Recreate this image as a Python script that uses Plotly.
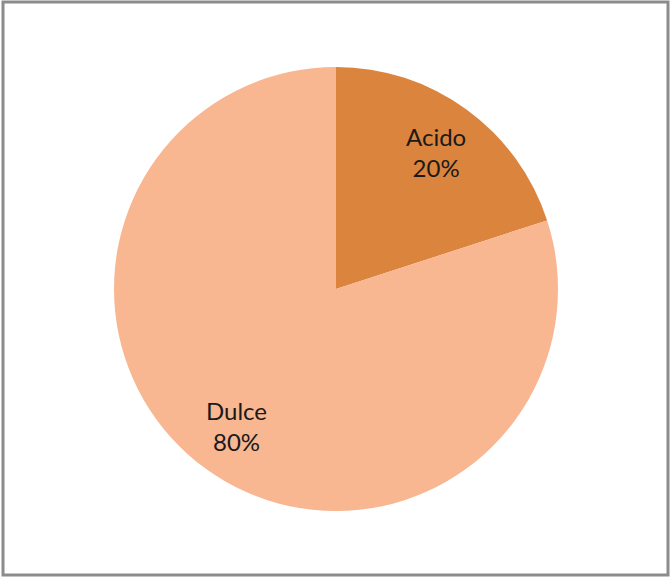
import math
import plotly.graph_objects as go

labels = ["Acido", "Dulce"]
values = [20, 80]
colors = ["#DB843E", "#F8B691"]

W, H = 670, 577
cx, cy, R = 336, 289, 222
label_r = 0.765

fig = go.Figure(go.Pie(
    labels=labels,
    values=values,
    sort=False,
    direction="clockwise",
    rotation=0,
    marker=dict(colors=colors, line=dict(color="white", width=0)),
    textinfo="none",
    hoverinfo="label+percent",
    showlegend=False,
    domain=dict(x=[(cx - R) / W, (cx + R) / W], y=[1 - (cy + R) / H, 1 - (cy - R) / H]),
))

# data labels placed along each slice's mid-angle
total = sum(values)
annotations = []
cum = 0
for lab, v in zip(labels, values):
    mid = (cum + v / 2) / total * 2 * math.pi
    cum += v
    px = cx + label_r * R * math.sin(mid)
    py = cy - label_r * R * math.cos(mid)
    annotations.append(dict(
        x=px / W, y=1 - py / H, xref="paper", yref="paper",
        text=f"{lab}<br>{round(v / total * 100)}%", showarrow=False,
        font=dict(family="Lato, Carlito, Calibri, sans-serif", size=24, color="#1a1a1a"),
        align="center", xanchor="center", yanchor="middle",
    ))

fig.update_layout(
    width=W, height=H,
    margin=dict(l=0, r=0, t=0, b=0),
    paper_bgcolor="white",
    plot_bgcolor="white",
    annotations=annotations,
    shapes=[dict(type="rect", xref="paper", yref="paper",
                 x0=3 / W, x1=668 / W, y0=1 - 575 / H, y1=1 - 2 / H,
                 line=dict(color="#8c8c8c", width=3), fillcolor="rgba(0,0,0,0)")],
)

fig.write_html("out.html", config={"displayModeBar": False},
               post_script="document.body.style.margin='0';document.body.style.overflow='hidden';")
